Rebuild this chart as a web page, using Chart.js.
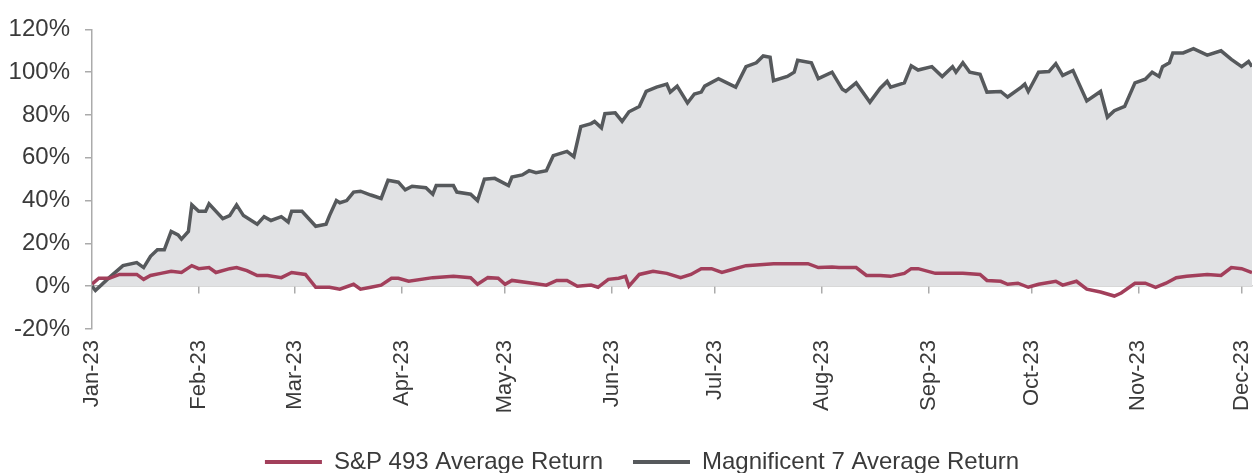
<!DOCTYPE html>
<html>
<head>
<meta charset="utf-8">
<script src="https://cdn.jsdelivr.net/npm/chart.js@4.4.1/dist/chart.umd.min.js"></script>
<style>
  html, body { margin: 0; padding: 0; background: #fff; overflow: hidden; }
  #wrap { width: 1254px; height: 484px; }
</style>
</head>
<body>
<div id="wrap"><canvas id="perfChart"></canvas></div>
<script>
// Days counted from 1 Jan 2023
const monthStarts = [0, 31, 59, 90, 120, 151, 181, 212, 243, 273, 304, 334];
const monthLabels = ['Jan-23', 'Feb-23', 'Mar-23', 'Apr-23', 'May-23', 'Jun-23',
                     'Jul-23', 'Aug-23', 'Sep-23', 'Oct-23', 'Nov-23', 'Dec-23'];
const yTicks = [-20, 0, 20, 40, 60, 80, 100, 120];

// S&P 493 average return (%)
const spDays = [0, 2, 5, 8, 13, 15, 17, 20, 23, 26, 29, 31, 34, 36, 40, 42, 45, 48, 51, 55,
  58, 62, 65, 69, 72, 76, 78, 81, 84, 87, 89, 92, 99, 105, 110, 112, 115, 118, 120, 122,
  128, 132, 135, 138, 141, 145, 147, 150, 153, 155, 156, 159, 163, 167, 171, 174, 177, 180, 183, 186,
  190, 194, 198, 204, 208, 211, 215, 217, 222, 225, 229, 232, 236, 238, 240, 245, 250, 253, 258, 260,
  264, 266, 269, 272, 275, 280, 282, 286, 289, 293, 297, 299, 303, 306, 309, 312, 315, 318, 324, 328,
  331, 334, 337];
const spValues = [1, 3.7, 3.7, 5.5, 5.5, 3.2, 5, 6, 7, 6.4, 9.6, 8.2, 8.7, 6.4, 8.2, 8.7, 7.3, 5, 5, 4,
  6.4, 5.5, -0.5, -0.5, -1.4, 0.9, -1.4, -0.5, 0.5, 3.7, 3.7, 2.3, 4, 4.6, 4, 0.9, 4, 3.7, 0.9, 2.7,
  1.4, 0.5, 2.7, 2.7, 0, 0.5, -0.5, 3.2, 3.7, 4.6, 0, 5.5, 7, 6, 4, 5.5, 8.2, 8.2, 6.4, 7.8,
  9.6, 10, 10.5, 10.5, 10.5, 8.7, 9, 8.7, 8.7, 5, 5, 4.6, 6, 8.2, 8.2, 6, 6, 6, 5.5, 2.7,
  2.3, 0.9, 1.4, -0.5, 0.9, 2.3, 0.5, 2.3, -1.4, -2.7, -4.6, -3.2, 1.4, 1.4, -0.5, 1.4, 4, 4.6, 5.5, 5,
  8.7, 8.2, 6.4];

// Magnificent 7 average return (%)
const magDays = [0, 1, 5, 9, 13, 15, 17, 19, 21, 23, 25, 26, 28, 29, 31, 33, 34, 38, 40, 42,
  44, 48, 50, 52, 55, 57, 58, 61, 65, 68, 69, 71, 72, 74, 76, 78, 81, 84, 86, 89,
  91, 93, 97, 99, 100, 105, 106, 110, 112, 114, 117, 121, 122, 125, 127, 129, 132, 134, 138, 140,
  142, 145, 146, 148, 149, 152, 154, 156, 159, 161, 164, 167, 168, 170, 173, 175, 177, 178, 182, 187,
  190, 193, 195, 197, 198, 202, 204, 205, 209, 211, 215, 218, 219, 222, 226, 229, 231, 232, 236, 238,
  240, 244, 247, 250, 251, 253, 255, 258, 260, 264, 266, 270, 271, 272, 275, 278, 280, 282, 285, 289,
  293, 295, 297, 300, 303, 306, 308, 310, 311, 313, 314, 317, 320, 324, 328, 331, 334, 336, 337];
const magValues = [0, -2, 4, 9.6, 11, 8.7, 14, 17, 17, 25.6, 24, 22, 25.6, 38, 35, 35, 38.5, 31.6, 33, 38,
  33, 29, 32.5, 30.7, 32.5, 30, 35, 35, 28, 29, 33, 40, 39, 40, 44, 44.4, 42.6, 41, 49.5, 48.6,
  45, 46.7, 46, 43, 47, 47, 44, 43, 40, 50, 50.4, 47, 51, 52, 54, 53, 54, 61, 63, 60.5,
  74.6, 76, 77, 74, 80.6, 81, 77, 81.5, 84, 91, 93, 94.4, 90.7, 93.5, 85.6, 89.8, 90.7, 93.5, 97, 93,
  102.6, 104.4, 107.6, 107, 96, 98, 100, 105.6, 104.4, 97, 100, 92, 91, 95, 86, 92.5, 95.7, 93, 95, 103,
  101, 102.6, 98, 102.6, 100, 104.4, 100, 99, 90.7, 91, 88.4, 93, 94.4, 91, 100, 100.3, 104, 98.5, 100.8, 86.6,
  91, 79, 82, 84, 95, 96.7, 100, 98, 102.6, 104.4, 109, 109, 111, 108, 110, 106, 102.6, 105, 102.6];

const toPoints = (days, vals) => days.map((d, i) => ({ x: d, y: vals[i] }));

const FONT = "'Liberation Sans', Arial, sans-serif";
const TEXT = '#3a3a3a';
const AXIS = '#ababab';

new Chart(document.getElementById('perfChart'), {
  type: 'line',
  data: {
    datasets: [
      {
        label: 'S&P 493 Average Return',
        data: toPoints(spDays, spValues),
        borderColor: '#a23f5b',
        backgroundColor: '#a23f5b',
        borderWidth: 3.5,
        pointRadius: 0,
        tension: 0,
        fill: false
      },
      {
        label: 'Magnificent 7 Average Return',
        data: toPoints(magDays, magValues),
        borderColor: '#56595c',
        backgroundColor: '#e1e2e4',
        borderWidth: 3.5,
        pointRadius: 0,
        tension: 0,
        fill: 'origin'
      }
    ]
  },
  options: {
    responsive: true,
    maintainAspectRatio: false,
    animation: false,
    layout: { padding: { top: 24, left: 0, right: 2, bottom: 0 } },
    plugins: {
      tooltip: { enabled: false },
      legend: {
        position: 'bottom',
        fullSize: false,
        labels: {
          boxWidth: 57,
          boxHeight: 4,
          padding: 30,
          color: TEXT,
          font: { size: 24, family: FONT },
          // trailing blanks on the last entry nudge the centred row to the left
          generateLabels: chart => chart.data.datasets.map((ds, i) => ({
            text: ds.label + (i === 1 ? '         ' : ''),
            fillStyle: ds.borderColor,
            strokeStyle: ds.borderColor,
            lineWidth: 0,
            fontColor: TEXT,
            datasetIndex: i
          }))
        }
      }
    },
    scales: {
      x: {
        type: 'linear',
        position: 'bottom',
        min: 0,
        max: 337,
        grid: { display: false, drawTicks: false },
        border: { display: false },
        afterBuildTicks: scale => { scale.ticks = monthStarts.map(v => ({ value: v })); },
        afterFit: scale => { scale.height = 91; scale.paddingLeft = 0; scale.paddingRight = 0; },
        ticks: {
          autoSkip: false,
          minRotation: 90,
          maxRotation: 90,
          padding: 11,
          color: TEXT,
          font: { size: 22, family: FONT },
          callback: v => monthLabels[monthStarts.indexOf(v)]
        }
      },
      xZero: {
        type: 'linear',
        position: { y: 0 },
        min: 0,
        max: 337,
        afterBuildTicks: scale => { scale.ticks = monthStarts.map(v => ({ value: v })); },
        grid: { display: true, drawOnChartArea: false, drawTicks: true, tickLength: 7, color: AXIS, lineWidth: 1.5 },
        border: { display: true, color: AXIS, width: 1.5 },
        ticks: { display: false }
      },
      y: {
        min: -20,
        max: 120,
        afterBuildTicks: scale => { scale.ticks = yTicks.map(v => ({ value: v })); },
        afterFit: scale => { scale.width = 92; },
        grid: { display: true, drawOnChartArea: false, drawTicks: true, tickLength: 7, color: AXIS, lineWidth: 1.5 },
        border: { display: true, color: AXIS, width: 1.5 },
        ticks: {
          padding: 15,
          color: TEXT,
          font: { size: 24, family: FONT },
          callback: v => v + '%'
        }
      }
    }
  }
});
</script>
</body>
</html>
